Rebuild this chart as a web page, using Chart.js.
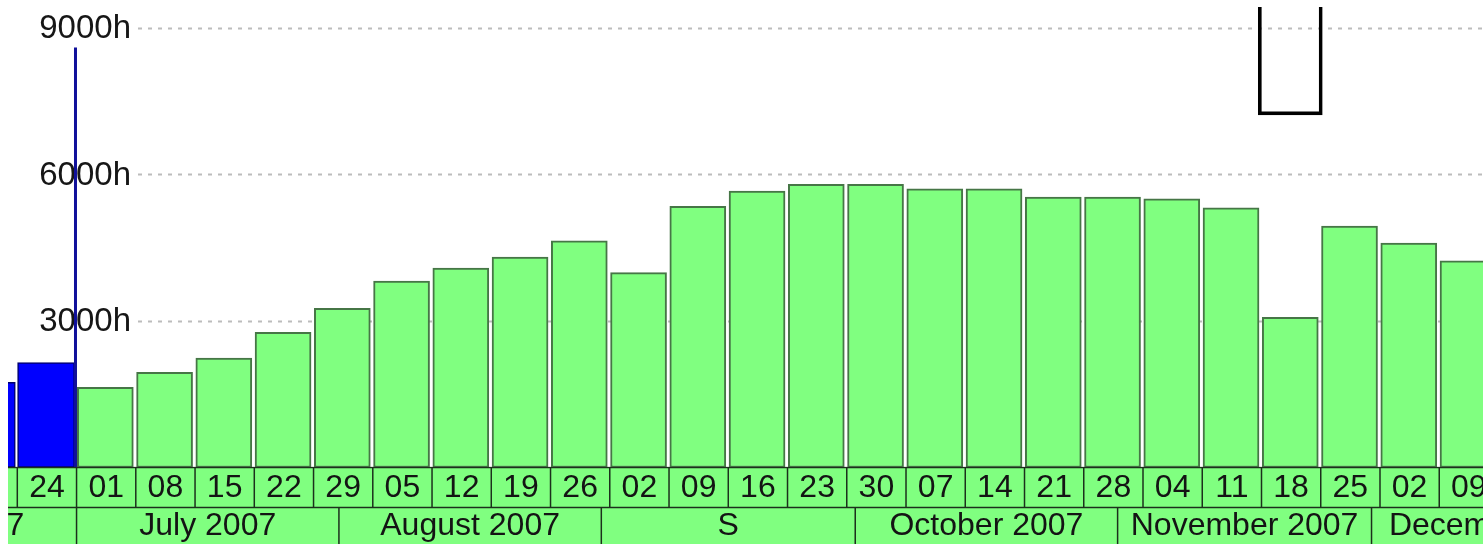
<!DOCTYPE html>
<html>
<head>
<meta charset="utf-8">
<script src="https://cdn.jsdelivr.net/npm/chart.js@4/dist/chart.umd.min.js"></script>
<style>
  html, body { margin: 0; padding: 0; background: #fff; }
  #wrap { width: 1483px; height: 544px; position: relative; }
</style>
</head>
<body>
<div id="wrap"><canvas id="hours"></canvas></div>
<script>
// week starts shown on the timeline
const weeks = ['2007-06-17', '2007-06-24', '2007-07-01', '2007-07-08', '2007-07-15', '2007-07-22',
  '2007-07-29', '2007-08-05', '2007-08-12', '2007-08-19', '2007-08-26', '2007-09-02',
  '2007-09-09', '2007-09-16', '2007-09-23', '2007-09-30', '2007-10-07', '2007-10-14',
  '2007-10-21', '2007-10-28', '2007-11-04', '2007-11-11', '2007-11-18', '2007-11-25',
  '2007-12-02', '2007-12-09', '2007-12-16'];
const weekLabels = ['17', '24', '01', '08', '15', '22', '29', '05', '12', '19', '26', '02',
  '09', '16', '23', '30', '07', '14', '21', '28', '04', '11', '18', '25', '02', '09', '16'];
// booked hours (blue) and planned hours (green), per week
const actualHours = [1745, 2146];
const plannedHours = [null, null, 1642, 1950, 2240, 2769, 3260, 3820, 4085, 4310, 4640, 3990,
  5350, 5662, 5800, 5800, 5705, 5705, 5540, 5540, 5500, 5315, 3076, 4945, 4595, 4230];
// open limit box in week of 18 Nov
const limitWeek = '2007-11-18';
const limitRange = [7220, 9600];
// today marker
const todayMark = '2007-06-30T21:00:00Z';
const todayTop = 8600;
const months = ['2007-06-01', '2007-07-01', '2007-08-01', '2007-09-01', '2007-10-01', '2007-11-01', '2007-12-01', '2008-01-01'];
const monthLabels = ['June 2007', 'July 2007', 'August 2007', 'S', 'October 2007', 'November 2007', 'December 2007'];
const yTicks = [3000, 6000, 9000];

const base = Date.UTC(2007, 5, 24);
const dayOf = s => (Date.parse(s.length > 10 ? s : s + 'T00:00:00Z') - base) / 86400000;

const blueBars = actualHours.map((v, i) => ({ x: dayOf(weeks[i]) + 3.4, y: v }));
const greenBars = plannedHours.map((v, i) => ({ x: dayOf(weeks[i]) + 3.4, y: v }));

const FONT = '32px "Liberation Sans", Arial, sans-serif';

const timelinePlugin = {
  id: 'timeline',
  beforeDatasetsDraw(chart) {
    const { ctx, chartArea, scales: { y } } = chart;
    ctx.save();
    ctx.strokeStyle = '#bcbcbc';
    ctx.lineWidth = 2;
    ctx.setLineDash([4, 6]);
    yTicks.forEach(t => {
      const py = Math.round(y.getPixelForValue(t)) + 0.5;
      ctx.beginPath();
      ctx.moveTo(138, py);
      ctx.lineTo(chartArea.right, py);
      ctx.stroke();
    });
    ctx.setLineDash([]);
    ctx.fillStyle = '#161616';
    ctx.font = '33px "Liberation Sans", Arial, sans-serif';
    ctx.textAlign = 'right';
    ctx.textBaseline = 'middle';
    yTicks.forEach(t => ctx.fillText(t + 'h', 131, y.getPixelForValue(t) + 1));
    ctx.restore();
  },
  afterDraw(chart) {
    const { ctx, chartArea, scales: { x } } = chart;
    const top = chartArea.bottom;
    const mid = top + 40;
    const H = chart.height;
    const L = chartArea.left;
    ctx.save();
    ctx.beginPath();
    ctx.rect(L, top - 1, chart.width - L, H - top + 1);
    ctx.clip();
    ctx.fillStyle = '#80ff80';
    ctx.fillRect(L, top, chart.width - L, H - top);
    ctx.strokeStyle = '#1c301c';
    ctx.lineWidth = 1.5;
    ctx.beginPath();
    ctx.moveTo(L, top); ctx.lineTo(chart.width, top);
    ctx.moveTo(L, mid); ctx.lineTo(chart.width, mid);
    weeks.forEach(w => {
      const px = x.getPixelForValue(dayOf(w));
      ctx.moveTo(px, top); ctx.lineTo(px, mid);
    });
    months.forEach(m => {
      const px = x.getPixelForValue(dayOf(m));
      ctx.moveTo(px, mid); ctx.lineTo(px, H);
    });
    ctx.stroke();
    ctx.fillStyle = '#141414';
    ctx.font = FONT;
    ctx.textAlign = 'center';
    ctx.textBaseline = 'middle';
    weeks.forEach((w, i) => {
      ctx.fillText(weekLabels[i], x.getPixelForValue(dayOf(w) + 3.5), top + 21);
    });
    monthLabels.forEach((lab, i) => {
      const a = x.getPixelForValue(dayOf(months[i]));
      const b = x.getPixelForValue(dayOf(months[i + 1]));
      ctx.fillText(lab, (a + b) / 2, mid + 19);
    });
    ctx.restore();
  }
};

new Chart(document.getElementById('hours'), {
  type: 'bar',
  data: {
    datasets: [
      {
        type: 'line',
        label: 'Today',
        data: [{ x: dayOf(todayMark), y: 0 }, { x: dayOf(todayMark), y: todayTop }],
        borderColor: '#10109a',
        borderWidth: 3,
        pointRadius: 0,
        order: 0
      },
      {
        label: 'Limit',
        data: [{ x: dayOf(limitWeek) + 3.4, y: limitRange }],
        backgroundColor: 'rgba(0,0,0,0)',
        borderColor: '#000000',
        borderWidth: 3,
        borderSkipped: 'top',
        barThickness: 64,
        grouped: false,
        clip: 0,
        order: 1
      },
      {
        label: 'Booked',
        data: blueBars,
        backgroundColor: '#0000ff',
        borderColor: '#00006a',
        borderWidth: 1.5,
        borderSkipped: false,
        barThickness: 57,
        grouped: false,
        clip: 0,
        order: 2
      },
      {
        label: 'Planned',
        data: greenBars,
        backgroundColor: '#80ff80',
        borderColor: '#467646',
        borderWidth: 2,
        borderSkipped: false,
        barThickness: 56,
        grouped: false,
        clip: 0,
        order: 2
      }
    ]
  },
  options: {
    responsive: true,
    maintainAspectRatio: false,
    animation: false,
    layout: { padding: { top: 7, bottom: 76.5, left: 8, right: 0 } },
    plugins: { legend: { display: false }, tooltip: { enabled: false } },
    scales: {
      x: { type: 'linear', min: -1.099, max: 173.17, offset: false, display: false },
      y: { min: 0, max: 9430, display: false }
    }
  },
  plugins: [timelinePlugin]
});
</script>
</body>
</html>
